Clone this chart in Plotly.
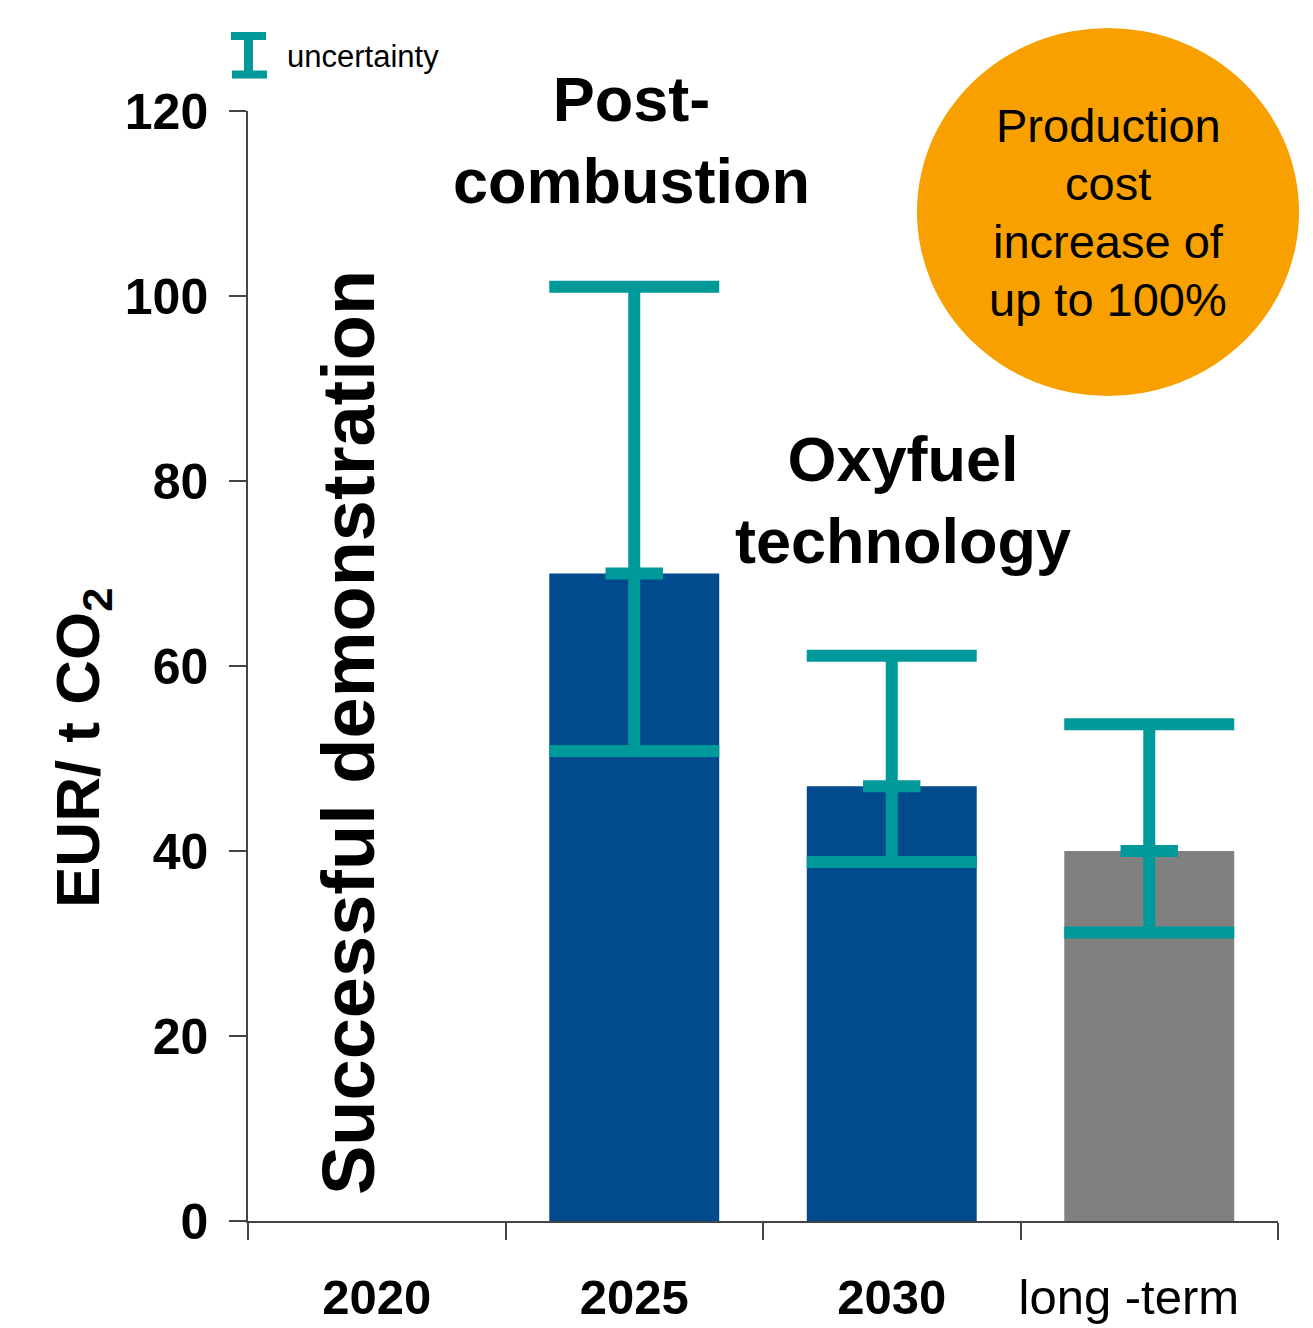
import plotly.graph_objects as go

# ---- data ----
categories = ["2020", "2025", "2030", "long -term"]
tick_labels = ["<b>2020</b>", "<b>2025</b>", "<b>2030</b>", "long -term&nbsp;&nbsp;&nbsp;"]
values = [None, 70, 47, 40]
bar_colors = ["#004A8D", "#004A8D", "#004A8D", "#808080"]

err_categories = ["2025", "2030", "long -term"]
err_center = [70, 47, 40]
err_upper = [101, 61.1, 53.7]
err_lower = [50.8, 38.8, 31.2]

y_ticks = [0, 20, 40, 60, 80, 100, 120]

circle_lines = ["Production", "cost", "increase of", "up to 100%"]

TEAL = "#009999"
ORANGE = "#F7A000"
FONT = "Liberation Sans, Arial, sans-serif"

W, H = 1313, 1328
L, T = 248, 111
PLOT_RIGHT, PLOT_BOTTOM = 1278, 1221
R = W - PLOT_RIGHT
B = H - PLOT_BOTTOM
PW, PH = PLOT_RIGHT - L, PLOT_BOTTOM - T


def px(xp):
    return (xp - L) / PW


def py(yp):
    return (PLOT_BOTTOM - yp) / PH


fig = go.Figure()
fig.add_trace(go.Bar(x=categories, y=values, marker=dict(color=bar_colors, line=dict(width=0)),
                     width=0.66, hoverinfo="skip"))
fig.add_trace(go.Scatter(
    x=err_categories, y=err_center, mode="markers",
    marker=dict(symbol="line-ew", size=41, color=TEAL, line=dict(width=12, color=TEAL)),
    error_y=dict(type="data", symmetric=False,
                 array=[u - c for u, c in zip(err_upper, err_center)],
                 arrayminus=[c - l for c, l in zip(err_center, err_lower)],
                 thickness=12, width=85, color=TEAL),
    hoverinfo="skip"))

axis_col = "#444444"
fig.update_layout(
    width=W, height=H, margin=dict(l=L, r=R, t=T, b=B, pad=0, autoexpand=False),
    paper_bgcolor="white", plot_bgcolor="white", showlegend=False,
    font=dict(family=FONT, color="black"),
    xaxis=dict(type="category", categoryorder="array", categoryarray=categories,
               tickmode="array", tickvals=categories, ticktext=tick_labels, tickangle=0,
               tickson="boundaries", ticks="outside", ticklen=17, tickwidth=1.5, tickcolor=axis_col,
               showline=True, linecolor=axis_col, linewidth=1.5, showgrid=False, automargin=False,
               tickfont=dict(size=49, family=FONT, color="black"), ticklabelstandoff=32,
               range=[-0.5, 3.5]),
    yaxis=dict(range=[0, 120], tickmode="array", tickvals=y_ticks, automargin=False,
               ticks="outside", ticklen=17, tickwidth=1.5, tickcolor=axis_col,
               showline=True, linecolor=axis_col, linewidth=1.5, showgrid=False, zeroline=False,
               tickfont=dict(size=50, family=FONT, color="black", weight="bold"),
               ticklabelstandoff=11),
)

# orange circle
fig.add_shape(type="circle", xref="paper", yref="paper",
              x0=px(917), x1=px(1299), y0=py(396), y1=py(28),
              fillcolor=ORANGE, line=dict(width=0), layer="below")

# legend symbol (uncertainty)
for (x0, x1, y0, y1, w) in [(231, 266, 36, 36, 8), (232, 267, 74.5, 74.5, 8), (248.5, 248.5, 36, 74.5, 9)]:
    fig.add_shape(type="line", xref="paper", yref="paper",
                  x0=px(x0), x1=px(x1), y0=py(y0), y1=py(y1), line=dict(color=TEAL, width=w))

ann = [
    dict(text="uncertainty", x=px(285), y=py(56), xanchor="left", yanchor="middle",
         font=dict(size=31, color="black")),
    dict(text="<b>EUR/ t CO<sub>2</sub></b>", x=px(82), y=py(748), textangle=-90,
         xanchor="center", yanchor="middle", font=dict(size=62, color="black")),
    dict(text="<b>Successful demonstration</b>", x=px(348), y=py(733), textangle=-90,
         xanchor="center", yanchor="middle", font=dict(size=74, color="black")),
    dict(text="<b>Post-<br>combustion</b>", x=px(631), y=py(140),
         xanchor="center", yanchor="middle", font=dict(size=63, color="black")),
    dict(text="<b>Oxyfuel<br>technology</b>", x=px(903), y=py(500),
         xanchor="center", yanchor="middle", font=dict(size=63, color="black")),
]
for line, yc in zip(circle_lines, [126, 183, 241, 299]):
    ann.append(dict(text=line, x=px(1108), y=py(yc), xanchor="center", yanchor="middle",
                    font=dict(size=47, color="black")))
for a in ann:
    a.update(xref="paper", yref="paper", showarrow=False)
    a["font"]["family"] = FONT
    fig.add_annotation(**a)

fig.write_html("out.html", config={"displayModeBar": False},
               post_script="document.body.style.margin='0';document.body.style.overflow='hidden';")
